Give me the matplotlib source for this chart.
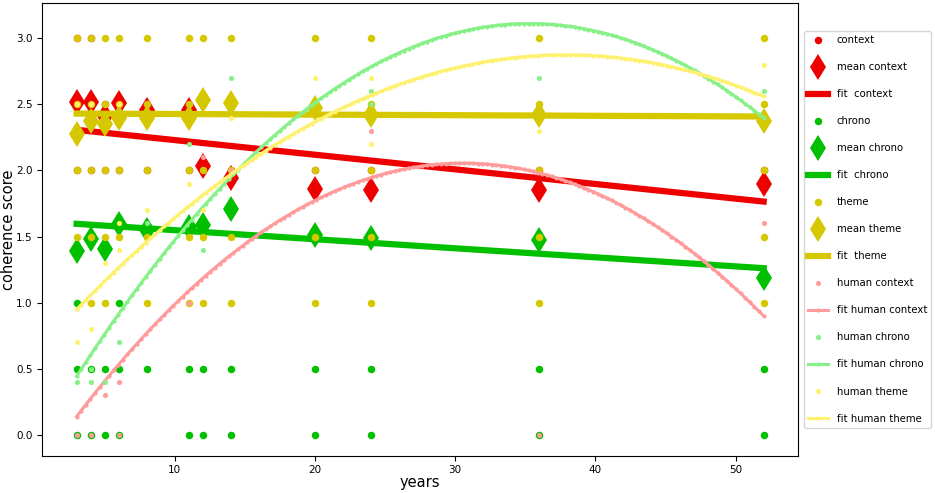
import numpy as np
import matplotlib
matplotlib.use("Agg")
import matplotlib.pyplot as plt

years = [3, 4, 5, 6, 8, 11, 12, 14, 20, 24, 36, 52]

# model scores (only the ones that can be told apart in the picture)
context_x = [3, 3, 3, 4, 4, 4, 5, 5, 6, 6, 8, 8, 11, 11, 12, 12, 14, 20, 24, 36, 52]
context_y = [3.0, 2.5, 2.0, 3.0, 2.5, 2.0, 2.5, 2.0, 2.5, 2.0, 2.5, 2.0, 2.5, 2.0, 2.0, 2.5, 2.0, 2.0, 2.0, 2.0, 2.0]

chrono_x = [3, 3, 3, 4, 4, 5, 5, 6, 6, 6, 8, 11, 11, 12, 12, 14, 14, 20, 20, 24, 24, 36, 36, 52, 52]
chrono_y = [1.0, 0.5, 0.0, 0.5, 0.0, 0.5, 0.0, 1.0, 0.5, 0.0, 0.5, 0.5, 0.0, 0.5, 0.0,
            0.5, 0.0, 0.5, 0.0, 0.5, 0.0, 0.5, 0.0, 0.5, 0.0]

theme_x = [3, 3, 3, 3,
           4, 4, 4, 4, 4,
           5, 5, 5, 5, 5,
           6, 6, 6, 6,
           8, 8, 8, 8, 8,
           11, 11, 11, 11, 11,
           12, 12, 12, 12, 12,
           14, 14, 14, 14, 14,
           20, 20, 20, 20, 20,
           24, 24, 24, 24, 24,
           36, 36, 36, 36, 36,
           52, 52, 52, 52, 52]
theme_y = [3.0, 2.5, 2.0, 1.5] + [3.0, 2.5, 2.0, 1.5, 1.0] * 2 + [3.0, 2.5, 2.0, 1.5] \
          + [3.0, 2.5, 2.0, 1.5, 1.0] * 8

mean_context = [2.52, 2.52, 2.41, 2.51, 2.46, 2.46, 2.03, 1.94, 1.86, 1.85, 1.85, 1.90]
mean_chrono = [1.39, 1.48, 1.405, 1.595, 1.55, 1.575, 1.59, 1.71, 1.51, 1.49, 1.475, 1.185]
mean_theme = [2.275, 2.37, 2.35, 2.395, 2.395, 2.395, 2.53, 2.51, 2.47, 2.42, 2.42, 2.37]

# human scores
hcontext_x = [3, 4, 5, 6, 6, 11, 12, 14, 24, 36, 52]
hcontext_y = [0.0, 0.0, 0.3, 0.4, 0.0, 1.0, 2.1, 2.0, 2.3, 0.0, 1.6]

hchrono_x = [3, 4, 4, 5, 6, 8, 11, 12, 14, 24, 24, 36, 52]
hchrono_y = [0.4, 0.4, 0.5, 0.4, 0.7, 1.6, 2.2, 1.4, 2.7, 2.6, 2.5, 2.7, 2.6]

htheme_x = [3, 3, 4, 4, 5, 6, 6, 6, 8, 11, 12, 14, 20, 24, 24, 36, 52]
htheme_y = [0.7, 2.5, 0.8, 2.5, 1.3, 1.6, 1.4, 2.5, 1.7, 1.9, 1.7, 2.4, 2.7, 2.7, 2.2, 2.3, 2.8]

# fit coefficients, highest power first
fit_context = [-0.01106, 2.340]
fit_chrono = [-0.00684, 1.617]
fit_theme = [-0.00045, 2.431]
fit_hcontext = [-0.002517, 0.15394, -0.2987]
fit_hchrono = [-0.002557, 0.18048, -0.0745]
fit_htheme = [-0.00158, 0.11976, 0.6045]

c_context = "#ee0000"
c_chrono = "#00c000"
c_theme = "#d6c800"
c_hcontext = "#ff9b9b"
c_hchrono = "#88f088"
c_htheme = "#fff170"

fig = plt.figure(figsize=(9.35, 4.93), dpi=100)
ax = fig.add_axes([0.0452, 0.0757, 0.8083, 0.9183])

x_lin = np.array([years[0], years[-1]])
x_fine = np.linspace(years[0], years[-1], 150)

for xs, ys, means, fit, col, name in [
        (context_x, context_y, mean_context, fit_context, c_context, "context"),
        (chrono_x, chrono_y, mean_chrono, fit_chrono, c_chrono, "chrono"),
        (theme_x, theme_y, mean_theme, fit_theme, c_theme, "theme")]:
    ax.plot(xs, ys, "o", color=col, ms=5.4, mew=0, label=name)
    ax.plot(years, means, "d", color=col, ms=13.5, mew=0, label="mean " + name)
    ax.plot(x_lin, np.polyval(fit, x_lin), "-", color=col, lw=4.5, label="fit  " + name)

for xs, ys, fit, col, name in [
        (hcontext_x, hcontext_y, fit_hcontext, c_hcontext, "human context"),
        (hchrono_x, hchrono_y, fit_hchrono, c_hchrono, "human chrono"),
        (htheme_x, htheme_y, fit_htheme, c_htheme, "human theme")]:
    ax.plot(xs, ys, "o", color=col, ms=3.7, mew=0, label=name)
    ax.plot(x_fine, np.polyval(fit, x_fine), ".-", color=col, lw=2.2, ms=4,
            label="fit " + name)

ax.set_xlabel("years", fontsize=10.5, labelpad=0)
ax.set_ylabel("coherence score", fontsize=10.5, labelpad=0)
ax.tick_params(labelsize=7.5)
ax.legend(loc="center left", bbox_to_anchor=(1, 0.5), fontsize=7.3, labelspacing=1.68,
          borderaxespad=0.6)

fig.savefig("out.png", dpi=100)
